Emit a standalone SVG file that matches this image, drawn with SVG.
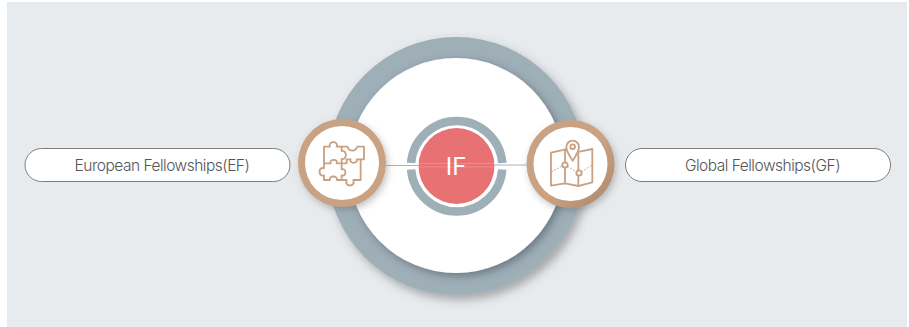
<svg xmlns="http://www.w3.org/2000/svg" width="909" height="327" viewBox="0 0 909 327">
<style>
.pill{fill:#fff;stroke:#7d7d7d;stroke-width:1}
.lbl{font-family:"Inter","Liberation Sans",sans-serif;font-weight:300;font-size:15.5px;letter-spacing:-.5px;fill:#555;text-anchor:middle}
.ic{fill:none;stroke:#c9a283;stroke-width:5.5;stroke-linejoin:round;stroke-linecap:round}
.dot{stroke-dasharray:3 7;stroke-width:3}
.conn{stroke:#a9b5bc;stroke-width:1;fill:none}
</style>
<defs>
<filter id="s1" x="-20%" y="-20%" width="140%" height="140%"><feDropShadow dx="4" dy="5" stdDeviation="5" flood-color="#555" flood-opacity=".45"/></filter>
<filter id="s2" x="-20%" y="-20%" width="140%" height="140%"><feDropShadow dx="3" dy="3" stdDeviation="4" flood-color="#33414a" flood-opacity=".5"/></filter>
<filter id="s3" x="-30%" y="-30%" width="160%" height="160%"><feDropShadow dx="2" dy="3" stdDeviation="3.500" flood-color="#555" flood-opacity=".35"/></filter>
<linearGradient id="g" x1="0" y1="0" x2="1" y2="1"><stop offset=".55" stop-color="#c9a283"/><stop offset="1" stop-color="#a98669"/></linearGradient>
</defs>
<rect x="7" y="2" width="900" height="325" fill="#e8ebee"/>
<g id="hub">
<circle cx="456" cy="166" r="129" fill="#9fafb8" filter="url(#s1)"/>
<circle cx="456" cy="165.500" r="107.500" fill="#fff" filter="url(#s2)"/>
</g>
<g id="connectors">
<path class="conn" d="M386 165.500H418"/>
<path class="conn" d="M495 165H527"/>
</g>
<g id="if">
<path d="M411.100 163A45.750 45.750 0 0 1 502.300 163M502.300 169.500A45.750 45.750 0 0 1 411.100 169.500" fill="none" stroke="#9fafb8" stroke-width="8.500"/>
<circle cx="456.500" cy="166" r="38" fill="#e87273"/>
<path d="M419 163.500H494M419 167H494" stroke="#eb9291" stroke-width=".8"/>
<text x="456" y="175" font-family="'Inter','Liberation Sans',sans-serif" font-weight="400" font-size="24" fill="#fff" text-anchor="middle">IF</text>
</g>
<g id="ef">
<rect class="pill" x="25" y="148.500" width="265" height="33" rx="16.500"/>
<text class="lbl" x="162" y="170.500">European Fellowships(EF)</text>
</g>
<g id="gf">
<rect class="pill" x="625.500" y="148.500" width="265" height="33" rx="16.500"/>
<text class="lbl" x="762.500" y="170.500">Global Fellowships(GF)</text>
</g>
<g id="puzzle">
<circle cx="342" cy="163" r="44" fill="#c9a283" filter="url(#s3)"/>
<circle cx="342" cy="163" r="37" fill="#fff"/>
<g transform="translate(290 100) scale(.3333)" class="ic">
<path d="M102 140H120C112 122 148 122 140 140H155V153C172 148 172 182 155 177V190H140C146 176 116 176 122 190H102Z"/>
<path d="M155 140H172C178 156 196 156 202 140H222V178H200C206 192 176 192 182 178H170V190H155"/>
<path d="M212 178V240H190C198 262 162 262 170 240H155V226C170 232 170 204 155 208V190"/>
<path d="M102 190V205C84 198 84 232 102 226V240H120C114 226 146 226 140 240H155"/>
</g>
</g>
<g id="map">
<circle cx="570.500" cy="164" r="44" fill="url(#g)" filter="url(#s3)"/>
<circle cx="570.500" cy="164" r="37" fill="#fff"/>
<g transform="translate(515 105) scale(.3333)" class="ic">
<path d="M153 133L108 143V242L150 235L190 243L232 232V132L194 140"/>
<path d="M150 133V172M150 188V235M190 142V196M190 212V243"/>
<path d="M173 167C160 148 154 138 154 126A19 19 0 0 1 192 126C192 138 186 148 173 167Z"/>
<circle cx="173" cy="125" r="7"/>
<circle cx="150" cy="180" r="8"/>
<circle cx="192" cy="204" r="8"/>
<path class="dot" d="M110 200L142 183M158 184L184 200M200 200L232 180"/>
</g>
</g>
</svg>
